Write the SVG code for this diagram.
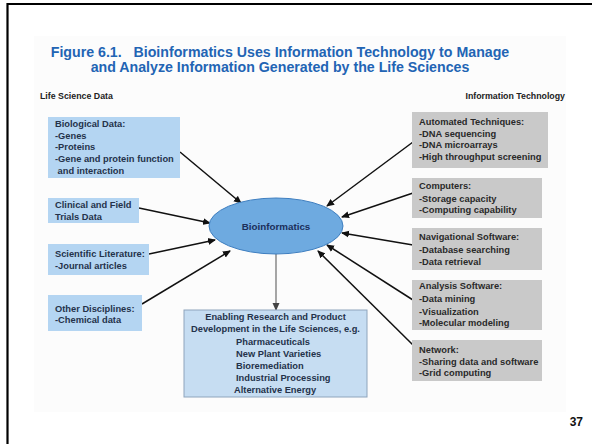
<svg xmlns="http://www.w3.org/2000/svg" width="592" height="444" viewBox="0 0 592 444">
<defs>
<marker id="ah" markerWidth="8" markerHeight="8" refX="7" refY="4" orient="auto" markerUnits="userSpaceOnUse">
<path d="M0,0.5 L8,4 L0,7.5 Z" fill="#111"/>
</marker>
<marker id="ahg" markerWidth="8" markerHeight="8" refX="7" refY="4" orient="auto" markerUnits="userSpaceOnUse">
<path d="M0,0.5 L8,4 L0,7.5 Z" fill="#444"/>
</marker>
</defs>
<style>
.title{font-family:"Liberation Sans",Arial,sans-serif;font-weight:bold;font-size:14.2px;fill:#2264b4;text-anchor:middle}
.head{font-family:"Liberation Sans",Arial,sans-serif;font-weight:bold;font-size:8.8px;fill:#222}
.lt{font-family:"Liberation Sans",Arial,sans-serif;font-weight:bold;font-size:9.3px;fill:#24324a}
.rt{font-family:"Liberation Sans",Arial,sans-serif;font-weight:bold;font-size:9.3px;fill:#2a2a2a}
.lbox{fill:#b4d5f2}
.gbox{fill:#c9c9c9}
.conn{stroke:#111;stroke-width:1.5;fill:none;marker-end:url(#ah)}
</style>
<rect x="0" y="0" width="592" height="444" fill="#fff"/>
<rect x="34" y="36" width="532" height="376" fill="#fcfcfc"/>
<path d="M7.5,444 V4 H592" fill="none" stroke="#000" stroke-width="2.2"/>
<text class="title" x="280" y="57" xml:space="preserve">Figure 6.1.   Bioinformatics Uses Information Technology to Manage</text>
<text class="title" x="280" y="72">and Analyze Information Generated by the Life Sciences</text>
<text class="head" x="40" y="99">Life Science Data</text>
<text class="head" x="565" y="99" text-anchor="end">Information Technology</text>

<g id="connectors">
<line class="conn" x1="180" y1="152" x2="241" y2="203"/>
<line class="conn" x1="139" y1="208" x2="210" y2="223"/>
<line class="conn" x1="149" y1="254" x2="215" y2="240"/>
<line class="conn" x1="142" y1="304" x2="230" y2="251"/>
<line class="conn" x1="413" y1="142" x2="327" y2="206"/>
<line class="conn" x1="413" y1="193" x2="342" y2="217"/>
<line class="conn" x1="413" y1="245" x2="342" y2="233"/>
<line class="conn" x1="413" y1="300" x2="327" y2="245"/>
<line class="conn" x1="413" y1="345" x2="318" y2="251"/>
<line x1="276" y1="254" x2="276" y2="310" stroke="#777" stroke-width="1.3" marker-end="url(#ahg)"/>
</g>

<g id="biological">
<rect class="lbox" x="48" y="117" width="132" height="61"/>
<text class="lt" x="55" y="127">Biological Data:</text>
<text class="lt" x="55" y="138.5">-Genes</text>
<text class="lt" x="55" y="150">-Proteins</text>
<text class="lt" x="55" y="162">-Gene and protein function</text>
<text class="lt" x="55" y="174" xml:space="preserve"> and interaction</text>
</g>
<g id="clinical">
<rect class="lbox" x="48" y="198" width="91" height="25"/>
<text class="lt" x="55" y="207.5">Clinical and Field</text>
<text class="lt" x="55" y="220">Trials Data</text>
</g>
<g id="literature">
<rect class="lbox" x="48" y="244" width="101" height="31"/>
<text class="lt" x="55" y="257">Scientific Literature:</text>
<text class="lt" x="55" y="269">-Journal articles</text>
</g>
<g id="disciplines">
<rect class="lbox" x="48" y="295" width="94" height="36"/>
<text class="lt" x="55" y="312">Other Disciplines:</text>
<text class="lt" x="55" y="323">-Chemical data</text>
</g>

<g id="bioinformatics">
<ellipse cx="276" cy="226" rx="67" ry="28" fill="#6eaae0" stroke="#3f7fc0" stroke-width="1"/>
<text x="276" y="230" text-anchor="middle" font-family="'Liberation Sans',Arial,sans-serif" font-weight="bold" font-size="9.8" fill="#1c2f5a">Bioinformatics</text>
</g>

<g id="enabling">
<rect x="184" y="310" width="183" height="87" fill="#c6ddf2" stroke="#8ea4bc" stroke-width="1"/>
<text class="lt" x="275.5" y="320" text-anchor="middle">Enabling Research and Product</text>
<text class="lt" x="275.5" y="332" text-anchor="middle">Development in the Life Sciences, e.g.</text>
<text class="lt" x="236" y="344.5">Pharmaceuticals</text>
<text class="lt" x="236" y="356.5">New Plant Varieties</text>
<text class="lt" x="236" y="368.5">Bioremediation</text>
<text class="lt" x="236" y="381">Industrial Processing</text>
<text class="lt" x="234" y="393">Alternative Energy</text>
</g>

<g id="automated">
<rect class="gbox" x="412" y="112" width="136" height="56"/>
<text class="rt" x="419" y="125">Automated Techniques:</text>
<text class="rt" x="419" y="136.5">-DNA sequencing</text>
<text class="rt" x="419" y="148">-DNA microarrays</text>
<text class="rt" x="419" y="160">-High throughput screening</text>
</g>
<g id="computers">
<rect class="gbox" x="412" y="178" width="130" height="40"/>
<text class="rt" x="419" y="189">Computers:</text>
<text class="rt" x="419" y="202">-Storage capacity</text>
<text class="rt" x="419" y="213">-Computing capability</text>
</g>
<g id="navigational">
<rect class="gbox" x="412" y="228" width="130" height="42"/>
<text class="rt" x="419" y="240">Navigational Software:</text>
<text class="rt" x="419" y="253">-Database searching</text>
<text class="rt" x="419" y="265">-Data retrieval</text>
</g>
<g id="analysis">
<rect class="gbox" x="412" y="280" width="130" height="50"/>
<text class="rt" x="419" y="289">Analysis Software:</text>
<text class="rt" x="419" y="302">-Data mining</text>
<text class="rt" x="419" y="315">-Visualization</text>
<text class="rt" x="419" y="326">-Molecular modeling</text>
</g>
<g id="network">
<rect class="gbox" x="412" y="340" width="130" height="41"/>
<text class="rt" x="419" y="353">Network:</text>
<text class="rt" x="419" y="365">-Sharing data and software</text>
<text class="rt" x="419" y="376">-Grid computing</text>
</g>

<text x="583" y="426" text-anchor="end" font-family="'Liberation Sans',Arial,sans-serif" font-weight="bold" font-size="12" fill="#111">37</text>
</svg>
